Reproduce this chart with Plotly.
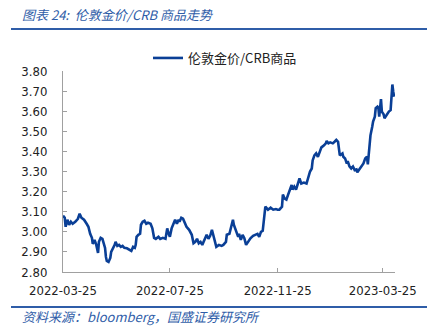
import plotly.graph_objects as go

# London gold price / CRB commodity index ratio
dates = [
    "2022-03-25", "2022-03-27", "2022-03-28", "2022-03-30", "2022-04-01", "2022-04-03",
    "2022-04-05", "2022-04-08", "2022-04-11", "2022-04-13", "2022-04-15", "2022-04-18",
    "2022-04-21", "2022-04-23", "2022-04-25", "2022-04-27", "2022-04-28", "2022-04-30",
    "2022-05-02", "2022-05-04", "2022-05-05", "2022-05-07", "2022-05-09", "2022-05-12",
    "2022-05-13", "2022-05-14", "2022-05-16", "2022-05-18", "2022-05-19", "2022-05-21",
    "2022-05-23", "2022-05-24", "2022-05-26", "2022-05-28", "2022-05-30", "2022-06-01",
    "2022-06-03", "2022-06-06", "2022-06-09", "2022-06-11", "2022-06-13", "2022-06-15",
    "2022-06-16", "2022-06-17", "2022-06-19", "2022-06-21", "2022-06-22", "2022-06-24",
    "2022-06-26", "2022-06-28", "2022-06-30", "2022-07-03", "2022-07-05", "2022-07-07",
    "2022-07-09", "2022-07-12", "2022-07-14", "2022-07-17", "2022-07-20", "2022-07-22",
    "2022-07-23", "2022-07-25", "2022-07-27", "2022-07-29", "2022-07-31", "2022-08-02",
    "2022-08-04", "2022-08-05", "2022-08-07", "2022-08-09", "2022-08-11", "2022-08-13",
    "2022-08-16", "2022-08-19", "2022-08-21", "2022-08-23", "2022-08-25", "2022-08-27",
    "2022-08-29", "2022-08-31", "2022-09-03", "2022-09-05", "2022-09-07", "2022-09-09",
    "2022-09-11", "2022-09-12", "2022-09-14", "2022-09-16", "2022-09-19", "2022-09-22",
    "2022-09-24", "2022-09-27", "2022-09-28", "2022-10-01", "2022-10-03", "2022-10-05",
    "2022-10-06", "2022-10-09", "2022-10-11", "2022-10-12", "2022-10-14", "2022-10-16",
    "2022-10-18", "2022-10-20", "2022-10-22", "2022-10-25", "2022-10-28", "2022-10-31",
    "2022-11-02", "2022-11-04", "2022-11-06", "2022-11-08", "2022-11-10", "2022-11-11",
    "2022-11-14", "2022-11-17", "2022-11-20", "2022-11-23", "2022-11-25", "2022-11-27",
    "2022-11-30", "2022-12-01", "2022-12-03", "2022-12-05", "2022-12-07", "2022-12-09",
    "2022-12-11", "2022-12-12", "2022-12-14", "2022-12-16", "2022-12-18", "2022-12-20",
    "2022-12-22", "2022-12-25", "2022-12-28", "2022-12-30", "2023-01-01", "2023-01-03",
    "2023-01-04", "2023-01-06", "2023-01-08", "2023-01-10", "2023-01-12", "2023-01-14",
    "2023-01-17", "2023-01-19", "2023-01-20", "2023-01-22", "2023-01-24", "2023-01-27",
    "2023-01-29", "2023-01-31", "2023-02-02", "2023-02-03", "2023-02-04", "2023-02-07",
    "2023-02-08", "2023-02-10", "2023-02-12", "2023-02-13", "2023-02-15", "2023-02-17",
    "2023-02-19", "2023-02-21", "2023-02-23", "2023-02-24", "2023-02-26", "2023-03-01",
    "2023-03-03", "2023-03-05", "2023-03-07", "2023-03-08", "2023-03-10", "2023-03-11",
    "2023-03-13", "2023-03-14", "2023-03-16", "2023-03-17", "2023-03-19", "2023-03-20",
    "2023-03-21", "2023-03-22", "2023-03-23", "2023-03-24", "2023-03-26", "2023-03-27",
    "2023-03-29", "2023-03-31", "2023-04-01", "2023-04-03", "2023-04-04", "2023-04-05",
    "2023-04-06", "2023-04-07",
]

ratio = [
    3.080, 3.070, 3.025, 3.060, 3.035, 3.050,
    3.040, 3.050, 3.065, 3.090, 3.070, 3.060,
    3.040, 3.025, 2.990, 2.970, 2.940, 2.960,
    2.935, 2.895, 2.950, 2.970, 2.965, 2.920,
    2.875, 2.855, 2.850, 2.870, 2.900, 2.915,
    2.935, 2.950, 2.930, 2.935, 2.925, 2.930,
    2.920, 2.918, 2.910, 2.905, 2.925, 2.920,
    2.935, 2.975, 2.985, 2.990, 3.035, 3.050,
    3.055, 3.040, 3.045, 3.040, 3.017, 2.970,
    2.965, 2.975, 2.965, 2.970, 2.965, 3.017,
    2.998, 2.975, 3.017, 3.035, 3.060, 3.040,
    3.060, 3.050, 3.070, 3.065, 3.040, 3.025,
    3.010, 2.985, 2.943, 2.950, 2.965, 2.943,
    2.950, 2.935, 2.965, 2.985, 2.965, 2.980,
    3.010, 2.990, 2.965, 2.925, 2.935, 2.930,
    2.935, 2.950, 2.985, 2.990, 3.025, 3.060,
    3.035, 3.000, 2.975, 2.990, 2.960, 2.985,
    2.968, 2.935, 2.950, 2.968, 2.980, 2.985,
    2.990, 2.975, 3.000, 3.005, 3.110, 3.125,
    3.110, 3.120, 3.110, 3.113, 3.110, 3.110,
    3.125, 3.185, 3.165, 3.160, 3.185, 3.210,
    3.233, 3.210, 3.225, 3.210, 3.233, 3.266,
    3.240, 3.245, 3.240, 3.275, 3.300, 3.315,
    3.355, 3.380, 3.390, 3.373, 3.400, 3.420,
    3.430, 3.440, 3.452, 3.440, 3.445, 3.440,
    3.448, 3.457, 3.448, 3.400, 3.380, 3.390,
    3.373, 3.365, 3.340, 3.352, 3.325, 3.315,
    3.325, 3.307, 3.310, 3.296, 3.307, 3.325,
    3.340, 3.365, 3.373, 3.335, 3.415, 3.480,
    3.523, 3.548, 3.573, 3.615, 3.623, 3.617,
    3.573, 3.623, 3.660, 3.598, 3.585, 3.565,
    3.580, 3.590, 3.598, 3.605, 3.680, 3.733,
    3.697, 3.672,
]

x_ticks = ["2022-03-25", "2022-07-25", "2022-11-25", "2023-03-25"]
y_ticks = [2.80, 2.90, 3.00, 3.10, 3.20, 3.30, 3.40, 3.50, 3.60, 3.70, 3.80]

series_name = "伦敦金价/CRB商品"
title_text = "图表 24:  伦敦金价/CRB 商品走势"
source_text = "资料来源：bloomberg，国盛证券研究所"

W, H = 427, 330
ML, MR, MT, MB = 63, 32, 71, 58
PW, PH = W - ML - MR, H - MT - MB

BLUE = "#2F5DA8"
LINE = "#0A3F96"
AXIS = "#A0A0A0"
TXT = "#222222"
LATIN = "DejaVu Sans Condensed, Liberation Sans, sans-serif"
CJK = "Noto Sans CJK SC, sans-serif"


def px_x(p):
    return (p - ML) / PW


def px_y(p):
    return (H - MB - p) / PH


fig = go.Figure()
fig.add_trace(go.Scatter(
    x=dates, y=ratio, mode="lines", name=series_name,
    line=dict(color=LINE, width=2.6),
))

fig.update_layout(
    width=W, height=H,
    margin=dict(l=ML, r=MR, t=MT, b=MB, pad=0, autoexpand=False),
    paper_bgcolor="white", plot_bgcolor="white",
    showlegend=True,
    legend=dict(
        orientation="h", xref="paper", yref="paper",
        x=px_x(148), xanchor="left", y=px_y(43), yanchor="top",
        font=dict(family=CJK, size=13, color=TXT),
        itemwidth=30, bgcolor="rgba(0,0,0,0)",
    ),
    xaxis=dict(
        type="date", range=["2022-03-25", "2023-04-08"],
        tickvals=x_ticks, ticktext=x_ticks,
        ticks="inside", ticklen=4, tickcolor=AXIS, tickwidth=1,
        showline=True, linecolor=AXIS, linewidth=1,
        showgrid=False, zeroline=False,
        tickfont=dict(family=LATIN, size=13, color=TXT),
        ticklabelstandoff=6,
    ),
    yaxis=dict(
        range=[2.80, 3.80], tickvals=y_ticks, tickformat=".2f",
        ticks="inside", ticklen=4, tickcolor=AXIS, tickwidth=1,
        showline=True, linecolor=AXIS, linewidth=1,
        showgrid=False, zeroline=False,
        tickfont=dict(family=LATIN, size=13, color=TXT),
        ticklabelstandoff=12,
    ),
)

# header and footer rules across the page
for yy in (29, 307):
    fig.add_shape(
        type="line", xref="paper", yref="paper",
        x0=px_x(11), x1=px_x(W), y0=px_y(yy), y1=px_y(yy),
        line=dict(color=BLUE, width=2),
    )

fig.add_annotation(
    xref="paper", yref="paper", x=px_x(20), y=px_y(14),
    xanchor="left", yanchor="middle", showarrow=False,
    text="<i>" + title_text + "</i>",
    font=dict(family=CJK, size=13, color=BLUE),
)
fig.add_annotation(
    xref="paper", yref="paper", x=px_x(20), y=px_y(316),
    xanchor="left", yanchor="middle", showarrow=False,
    text="<i>" + source_text + "</i>",
    font=dict(family=CJK, size=13, color=BLUE),
)

fig.write_html("out.html")
